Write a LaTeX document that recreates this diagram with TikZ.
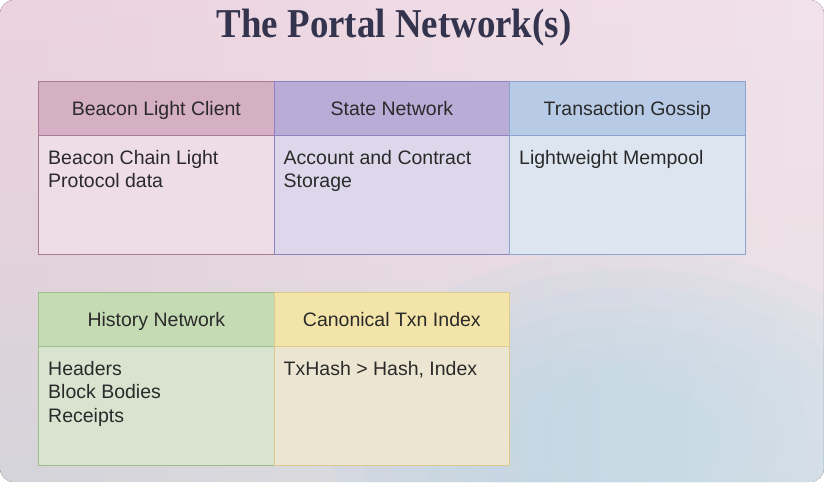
\documentclass[tikz,border=0pt]{standalone}
\usepackage{fontspec}
\setmainfont{Liberation Sans}
\newfontfamily\titlefont{Liberation Serif}
\usetikzlibrary{fadings}
\definecolor{titlec}{HTML}{34344E}
\definecolor{txt}{HTML}{2A2A2A}
\definecolor{bgtop}{HTML}{EBD2DF}
\definecolor{bgmid}{HTML}{E3D2DA}
\definecolor{bgbot}{HTML}{D4D4DA}
\definecolor{bgblue}{HTML}{AECCE0}
\definecolor{pinkH}{HTML}{D5AFC4}\definecolor{pinkB}{HTML}{EEDDE6}\definecolor{pinkD}{HTML}{A97B95}
\definecolor{purpH}{HTML}{B9ACD7}\definecolor{purpB}{HTML}{DDD7EB}\definecolor{purpD}{HTML}{8E82C0}
\definecolor{blueH}{HTML}{B8CBE6}\definecolor{blueB}{HTML}{DCE5F0}\definecolor{blueD}{HTML}{8DA5CC}
\definecolor{greenH}{HTML}{C4DBB4}\definecolor{greenB}{HTML}{D8E3D0}\definecolor{greenD}{HTML}{9DBE8B}
\definecolor{yellH}{HTML}{F3E4A9}\definecolor{yellB}{HTML}{ECE5D1}\definecolor{yellD}{HTML}{DCCB8C}
\tikzset{
  hdrbox/.style={draw=#1, line width=1.2pt, minimum width=235.5pt, minimum height=54pt, inner sep=0pt, text height=16pt, text depth=2pt, anchor=north west, font=\fontsize{19.5}{24}\selectfont, text=txt},
  bodybox/.style={draw=#1, line width=1.2pt, minimum width=235.5pt, minimum height=119pt, inner sep=0pt, anchor=north west},
  bodytxt/.style={anchor=north west, align=left, inner sep=0pt, font=\fontsize{19.5}{23.5}\selectfont, text=txt},
}
\begin{document}
\begin{tikzpicture}[x=1pt,y=-1pt]
\useasboundingbox (0,0) rectangle (824,482);
\fill[white] (0,0) rectangle (824,482);
\begin{scope}
\clip[rounded corners=14pt] (0,0) rectangle (824,482);
\fill[top color=bgtop, bottom color=bgbot, middle color=bgmid] (0,0) rectangle (824,482);
\foreach \r in {1,0.9,0.8,0.7,0.6,0.5,0.4,0.3}
  \fill[bgblue, opacity=0.17] (630,440) ellipse ({300*\r} and {190*\r});
\fill[white, opacity=0.35, path fading=west] (0,0) rectangle (824,482);
\end{scope}
\node (title) at (394,28) {\titlefont\bfseries\color{titlec}\scalebox{0.9}[1]{\fontsize{41}{41}\selectfont The Portal Network(s)}};
% top row
\node[hdrbox=pinkD, fill=pinkH] (bh) at (38,81) {Beacon Light Client};
\node[bodybox=pinkD, fill=pinkB] (bb) at (38,135) {};
\node[hdrbox=purpD, fill=purpH] (sh) at (273.5,81) {State Network};
\node[bodybox=purpD, fill=purpB] (sb) at (273.5,135) {};
\node[hdrbox=blueD, fill=blueH] (th) at (509,81) {Transaction Gossip};
\node[bodybox=blueD, fill=blueB] (tb) at (509,135) {};
\node[bodytxt] (bt) at ([xshift=10pt,yshift=-15pt]bb.north west) {Beacon Chain Light\\Protocol data};
\node[bodytxt] (st) at ([xshift=10pt,yshift=-15pt]sb.north west) {Account and Contract\\Storage};
\node[bodytxt] (tt) at ([xshift=10pt,yshift=-15pt]tb.north west) {Lightweight Mempool};
% bottom row
\node[hdrbox=greenD, fill=greenH] (hh) at (38,292) {History Network};
\node[bodybox=greenD, fill=greenB] (hb) at (38,346) {};
\node[hdrbox=yellD, fill=yellH] (ch) at (273.5,292) {Canonical Txn Index};
\node[bodybox=yellD, fill=yellB] (cb) at (273.5,346) {};
\node[bodytxt] (ht) at ([xshift=10pt,yshift=-15pt]hb.north west) {Headers\\Block Bodies\\Receipts};
\node[bodytxt] (ct) at ([xshift=10pt,yshift=-15pt]cb.north west) {TxHash > Hash, Index};
\end{tikzpicture}
\end{document}
